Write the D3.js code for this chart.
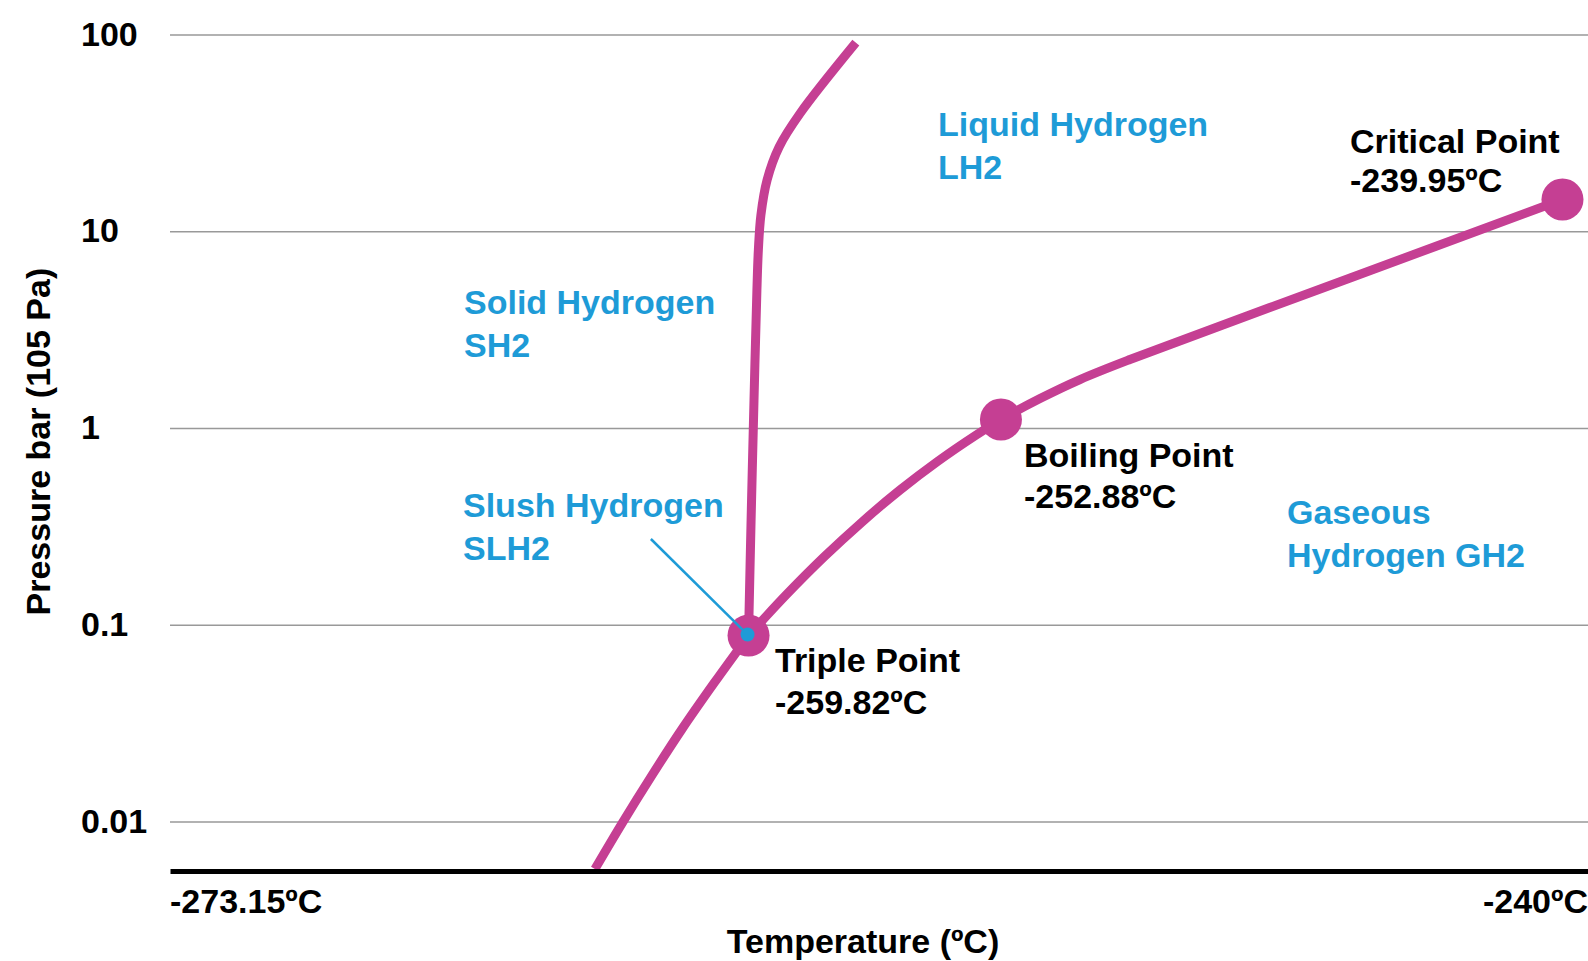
<!DOCTYPE html>
<html>
<head>
<meta charset="utf-8">
<script src="https://cdn.jsdelivr.net/npm/d3@7"></script>
<style>
  html, body { margin: 0; padding: 0; background: #fff; }
  svg { display: block; }
  text { font-family: "Liberation Sans", Arial, Helvetica, sans-serif; font-weight: bold; }
</style>
</head>
<body>
<svg id="chart" width="1588" height="961"></svg>
<script>
// Phase diagram of hydrogen: temperature (ºC) against pressure (bar, log scale)

// Sublimation curve (solid ⇄ gas), up to the triple point
const sublimationT = [-263.36, -262.72, -262.05, -261.35, -260.60, -259.82];
const sublimationP = [0.00573, 0.00990, 0.01710, 0.02955, 0.05103, 0.0881];

// Melting curve (solid ⇄ liquid), from the triple point upwards
const meltingT = [-259.82, -259.75, -259.67, -259.59, -259.55, -259.48, -259.31, -258.98, -258.40, -256.87];
const meltingP = [0.0881, 0.3405, 1.387, 5.026, 8.027, 12.09, 18.22, 26.81, 39.77, 90.85];

// Vaporization curve (liquid ⇄ gas), triple point → boiling point → critical point
const vaporT = [-259.82, -258.78, -257.74, -256.70, -255.66, -254.61, -253.57, -252.88, -251.98, -251.06, -249.91, -244.84, -239.95];
const vaporP = [0.0881, 0.1421, 0.2214, 0.3327, 0.4832, 0.6787, 0.9190, 1.104, 1.412, 1.763, 2.229, 5.785, 14.50];

// Characteristic points
const pointNames = ["Triple Point", "Boiling Point", "Critical Point"];
const pointT = [-259.82, -252.88, -239.95];
const pointP = [0.0881, 1.104, 14.50];

// Axis ticks and labels
const yTicks = [100, 10, 1, 0.1, 0.01];
const yTickLabels = ["100", "10", "1", "0.1", "0.01"];
const xEndLabels = ["-273.15ºC", "-240ºC"];
const xTitle = "Temperature (ºC)";
const yTitle = "Pressure bar (105 Pa)";

// Phase region names
const regionLines = [
  ["Liquid Hydrogen", "LH2"],
  ["Solid Hydrogen", "SH2"],
  ["Slush Hydrogen", "SLH2"],
  ["Gaseous", "Hydrogen GH2"]
];

// ---- layout ----
const MAGENTA = "#c53f93";
const BLUE = "#1e9bd7";
const plotLeft = 170, plotRight = 1588, plotTop = 34.5, plotBottom = 871;
const plotW = plotRight - plotLeft;

const svg = d3.select("#chart");

// The temperature axis is schematic: linear pieces between the labelled points
const axisTemps = [-273.15, -259.82, -252.88, -239.95];
const axisFrac = [0, 0.408, 0.586, 0.982];
const x = d3.scaleLinear()
  .domain(axisTemps)
  .range(axisFrac.map(f => plotLeft + f * plotW));

const y = d3.scaleLog()
  .domain([0.0056, 100])
  .range([plotBottom, plotTop]);

// Gridlines + tick labels
const yAxis = svg.append("g")
  .attr("transform", `translate(${plotLeft},0)`)
  .call(d3.axisLeft(y)
    .tickValues(yTicks)
    .tickFormat((d, i) => yTickLabels[i])
    .tickSize(-plotW));
yAxis.select(".domain").remove();
yAxis.selectAll(".tick line")
  .attr("stroke", "#999")
  .attr("stroke-width", 1.6);
yAxis.selectAll(".tick text")
  .attr("x", 81 - plotLeft)
  .attr("dy", "0.31em")
  .attr("text-anchor", "start")
  .attr("fill", "#000")
  .style("font-family", '"Liberation Sans", Arial, sans-serif')
  .style("font-weight", "bold")
  .style("font-size", "34px");

// Phase boundary curves
const line = d3.line()
  .x(d => x(d[0]))
  .y(d => y(d[1]))
  .curve(d3.curveCatmullRom.alpha(0.5));

const curves = [
  d3.zip(sublimationT, sublimationP),
  d3.zip(meltingT, meltingP),
  d3.zip(vaporT, vaporP)
];
svg.append("g")
  .selectAll("path")
  .data(curves)
  .join("path")
  .attr("d", line)
  .attr("fill", "none")
  .attr("stroke", MAGENTA)
  .attr("stroke-width", 9)
  .attr("stroke-linecap", "butt")
  .attr("stroke-linejoin", "round");

// Temperature axis baseline
const xAxis = svg.append("g")
  .attr("transform", `translate(0,${y.range()[0]})`)
  .call(d3.axisBottom(d3.scaleLinear().range([plotLeft, plotRight])).tickValues([]).tickSizeOuter(0));
xAxis.select(".domain")
  .attr("stroke", "#000")
  .attr("stroke-width", 5);

// Point markers
const points = pointNames.map((n, i) => ({ name: n, t: pointT[i], p: pointP[i] }));
svg.append("g")
  .selectAll("circle")
  .data(points)
  .join("circle")
  .attr("cx", d => x(d.t))
  .attr("cy", d => y(d.p))
  .attr("r", 21)
  .attr("fill", MAGENTA);

// Slush hydrogen leader to the triple point
const slushAnchor = { t: -262.07, p: 0.2727 };
svg.append("line")
  .attr("x1", x(slushAnchor.t))
  .attr("y1", y(slushAnchor.p))
  .attr("x2", x(pointT[0]) - 1)
  .attr("y2", y(pointP[0]) - 1)
  .attr("stroke", BLUE)
  .attr("stroke-width", 2.5);
svg.append("circle")
  .attr("cx", x(pointT[0]) - 1)
  .attr("cy", y(pointP[0]) - 1)
  .attr("r", 7)
  .attr("fill", BLUE);

// Two-line text helper
function twoLines(lines, px, py, gap, color) {
  const t = svg.append("text")
    .attr("x", px).attr("y", py)
    .attr("fill", color)
    .style("font-size", "34px");
  lines.forEach((s, i) => {
    t.append("tspan").attr("x", px).attr("dy", i === 0 ? 0 : gap).text(s);
  });
}

// Region labels
const regionPos = [[938, 136], [464, 314], [463, 517], [1287, 524]];
regionLines.forEach((lines, i) => twoLines(lines, regionPos[i][0], regionPos[i][1], 42.5, BLUE));

// Point labels
const fmt = t => `${t.toFixed(2)}ºC`;
const labelPos = [[775, 672, 42], [1024, 467, 41], [1350, 153, 39]];
points.forEach((d, i) => twoLines([d.name, fmt(d.t)], labelPos[i][0], labelPos[i][1], labelPos[i][2], "#000"));

// Temperature axis end labels and title
svg.append("text")
  .attr("x", plotLeft).attr("y", 913)
  .attr("text-anchor", "start")
  .style("font-size", "34px")
  .text(xEndLabels[0]);
svg.append("text")
  .attr("x", plotRight).attr("y", 913)
  .attr("text-anchor", "end")
  .style("font-size", "34px")
  .text(xEndLabels[1]);
svg.append("text")
  .attr("x", 863).attr("y", 953)
  .attr("text-anchor", "middle")
  .style("font-size", "34px")
  .text(xTitle);

// Pressure axis title
svg.append("text")
  .attr("transform", "translate(50,441.6) rotate(-90)")
  .attr("text-anchor", "middle")
  .style("font-size", "34px")
  .text(yTitle);
</script>
</body>
</html>
